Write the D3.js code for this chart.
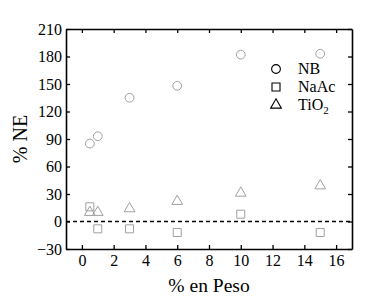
<!DOCTYPE html>
<html>
<head>
<meta charset="utf-8">
<script src="https://cdn.jsdelivr.net/npm/d3@7"></script>
<style>
  body { margin: 0; background: #fff; }
</style>
</head>
<body>
<svg id="chart"></svg>
<script>
// values
const nbX = [0.5, 1, 3, 6, 10, 15];
const nbY = [85, 93, 135, 148, 182, 183];
const naacX = [0.5, 1, 3, 6, 10, 15];
const naacY = [16, -8, -8, -12, 8, -12];
const tioX = [0.5, 1, 3, 6, 10, 15];
const tioY = [10, 10, 14, 22, 31, 39];
const xTicks = [0, 2, 4, 6, 8, 10, 12, 14, 16];
const yTicks = [-30, 0, 30, 60, 90, 120, 150, 180, 210];
const legendNames = ['NB', 'NaAc', 'TiO'];

const width = 365, height = 299;
const margin = { top: 29, right: 13, bottom: 50, left: 66 };
const markColour = '#a0a0a0';
const serif = 'Liberation Serif';

const svg = d3.select('#chart')
    .attr('width', width)
    .attr('height', height);

const x = d3.scaleLinear().domain([-1, 17]).range([margin.left, width - margin.right]);
const y = d3.scaleLinear().domain([-30, 210]).range([height - margin.bottom, margin.top]);

// axes, ticks pointing inwards
const axisG = svg.append('g');

axisG.append('g')
    .attr('transform', `translate(0,${y(-30)})`)
    .call(d3.axisBottom(x).tickValues(xTicks).tickSizeInner(-4).tickSizeOuter(0).tickPadding(6));

axisG.append('g')
    .attr('transform', `translate(0,${y(210)})`)
    .call(d3.axisTop(x).tickValues(xTicks).tickSizeInner(-4).tickSizeOuter(0).tickFormat(''));

axisG.append('g')
    .attr('transform', `translate(${x(-1)},0)`)
    .call(d3.axisLeft(y).tickValues(yTicks).tickSizeInner(-4).tickSizeOuter(0).tickPadding(4));

axisG.append('g')
    .attr('transform', `translate(${x(17)},0)`)
    .call(d3.axisRight(y).tickValues(yTicks).tickSizeInner(-4).tickSizeOuter(0).tickFormat(''));

// serif only comes through at whole sizes up to 16 here
axisG.selectAll('text')
    .attr('font-family', serif)
    .attr('font-size', 16)
    .attr('fill', '#000');
axisG.selectAll('.domain').attr('stroke', '#000').attr('stroke-width', 1.6);
axisG.selectAll('.tick line').attr('stroke', '#000').attr('stroke-width', 1.3);

// dashed zero line
svg.append('line')
    .attr('x1', x(-1)).attr('x2', x(17))
    .attr('y1', y(0)).attr('y2', y(0))
    .attr('stroke', '#000')
    .attr('stroke-width', 1.5)
    .attr('stroke-dasharray', '4,3');

const symCircle = d3.symbol().type(d3.symbolCircle).size(60);
const symSquare = d3.symbol().type(d3.symbolSquare).size(64);
const symTri = d3.symbol().type(d3.symbolTriangle).size(50);

function drawSeries(xs, ys, sym) {
    svg.append('g').selectAll('path')
        .data(xs.map((d, i) => [d, ys[i]]))
        .join('path')
        .attr('d', sym)
        .attr('transform', d => `translate(${x(d[0])},${y(d[1])})`)
        .attr('fill', 'none')
        .attr('stroke', markColour)
        .attr('stroke-width', 1);
}

drawSeries(nbX, nbY, symCircle);
drawSeries(naacX, naacY, symSquare);
drawSeries(tioX, tioY, symTri);

// legend
const legend = svg.append('g');
const legendSyms = [symCircle, symSquare, symTri];
legendNames.forEach((name, i) => {
    const ly = 69 + i * 18;
    legend.append('path')
        .attr('d', legendSyms[i])
        .attr('transform', `translate(276,${ly})`)
        .attr('fill', 'none')
        .attr('stroke', '#000')
        .attr('stroke-width', 1.1);
    const t = legend.append('text')
        .attr('x', 298)
        .attr('y', ly + 4.5)
        .attr('font-family', serif)
        .attr('font-size', 16)
        .text(name);
    if (name === 'TiO') {
        t.append('tspan').attr('font-size', 11).attr('dy', 4).text('2');
    }
});

// axis titles, drawn at 16 and scaled up
svg.append('text')
    .attr('transform', `translate(27,${y(90)}) rotate(-90) scale(1.25)`)
    .attr('text-anchor', 'middle')
    .attr('font-family', serif)
    .attr('font-size', 16)
    .text('% NE');

svg.append('text')
    .attr('transform', `translate(${x(8)},292) scale(1.22)`)
    .attr('text-anchor', 'middle')
    .attr('font-family', serif)
    .attr('font-size', 16)
    .text('% en Peso');
</script>
</body>
</html>
